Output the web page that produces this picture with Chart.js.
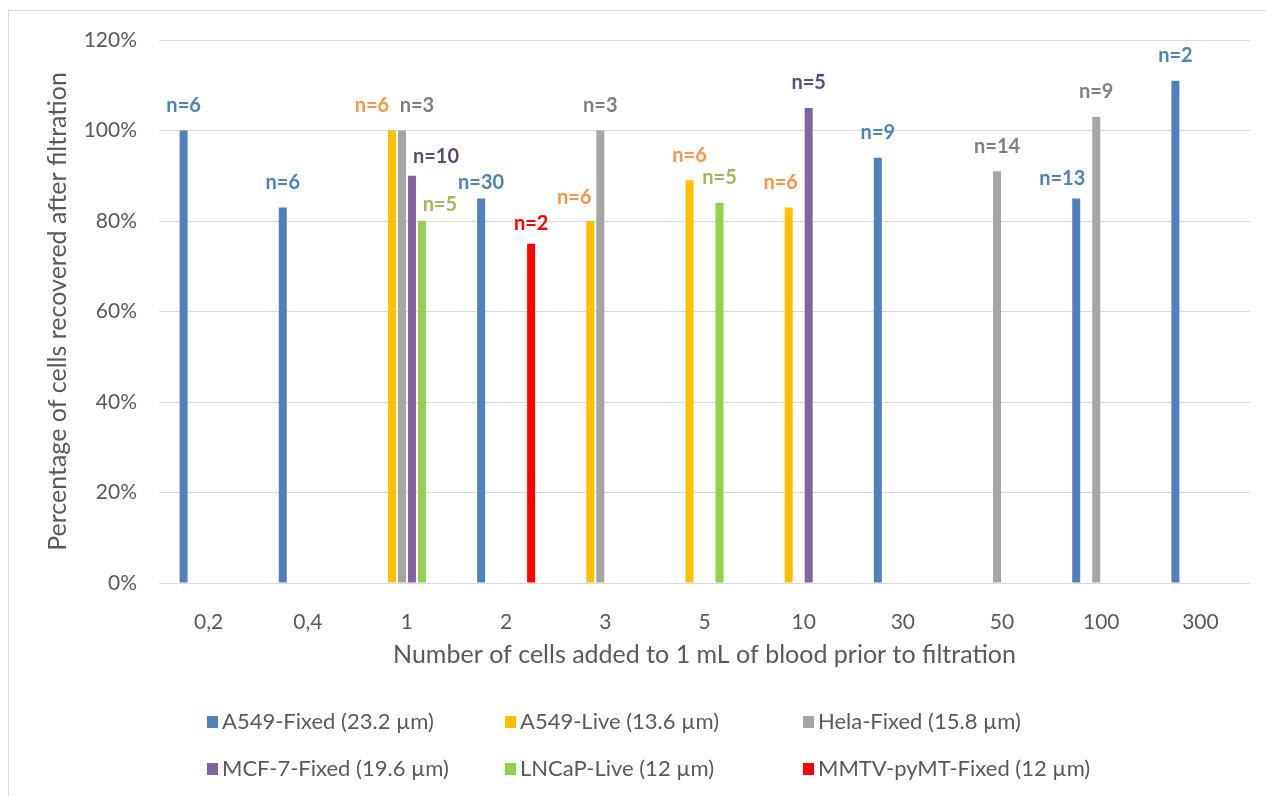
<!DOCTYPE html>
<html>
<head>
<meta charset="utf-8">
<script src="https://cdn.jsdelivr.net/npm/chart.js@4"></script>
<style>
  html, body { margin: 0; padding: 0; background: #fff; overflow: hidden; }
  #wrap { position: relative; width: 1266px; height: 796px; }
  #frame { position: absolute; left: 8px; top: 10px; width: 1300px; height: 900px;
           border-left: 1px solid #d9d9d9; border-top: 1px solid #d9d9d9; }
  canvas { position: absolute; left: 0; top: 0; }
</style>
</head>
<body>
<div id="wrap">
  <div id="frame"></div>
  <canvas id="myChart" width="1266" height="796"></canvas>
</div>
<script>
var categories = ['0,2', '0,4', '1', '2', '3', '5', '10', '30', '50', '100', '300'];

var a549Fixed  = [100, 83, null, 85, null, null, null, 94, null, 85, 111];
var a549FixedN = [6, 6, null, 30, null, null, null, 9, null, 13, 2];

var a549Live  = [null, null, 100, null, 80, 89, 83, null, null, null, null];
var a549LiveN = [null, null, 6, null, 6, 6, 6, null, null, null, null];

var helaFixed  = [null, null, 100, null, 100, null, null, null, 91, 103, null];
var helaFixedN = [null, null, 3, null, 3, null, null, null, 14, 9, null];

var mcf7Fixed  = [null, null, 90, null, null, null, 105, null, null, null, null];
var mcf7FixedN = [null, null, 10, null, null, null, 5, null, null, null, null];

var lncapLive  = [null, null, 80, null, null, 84, null, null, null, null, null];
var lncapLiveN = [null, null, 5, null, null, 5, null, null, null, null, null];

var mmtvFixed  = [null, null, null, 75, null, null, null, null, null, null, null];
var mmtvFixedN = [null, null, null, 2, null, null, null, null, null, null, null];

var seriesNames = ['A549-Fixed (23.2 µm)', 'A549-Live (13.6 µm)', 'Hela-Fixed (15.8 µm)',
	'MCF-7-Fixed (19.6 µm)', 'LNCaP-Live (12 µm)', 'MMTV-pyMT-Fixed (12 µm)'];

var barColors   = ['#4F81BD', '#FFC000', '#A5A5A5', '#8064A2', '#92D050', '#FF0000'];
var labelColors = ['#4F81BD', '#F79646', '#7F7F7F', '#5F497A', '#9BBB59', '#FF0000'];

var seriesValues = [a549Fixed, a549Live, helaFixed, mcf7Fixed, lncapLive, mmtvFixed];
var seriesN = [a549FixedN, a549LiveN, helaFixedN, mcf7FixedN, lncapLiveN, mmtvFixedN];

// labels that were dragged around in the original so they don't overlap: [dx, dy]
var labelShift = {
	'1:2': [-20, 0], '2:2': [15, 0], '3:2': [24, 6], '4:2': [18, 9],
	'1:4': [-16, 2], '1:6': [-8, 0], '0:3': [0, 9], '5:3': [0, 5], '0:9': [-14, 5]
};

var FONT = 'Lato, "Open Sans", sans-serif';
var TEXT = '#595959';

var datasets = [];
for (var i = 0; i < seriesValues.length; i++) {
	datasets.push({
		label: seriesNames[i],
		data: seriesValues[i],
		backgroundColor: barColors[i],
		borderWidth: 0,
		categoryPercentage: 0.605,
		barPercentage: 0.8
	});
}

var nLabels = {
	id: 'nLabels',
	afterDatasetsDraw: function(chart) {
		var ctx = chart.ctx;
		ctx.save();
		ctx.font = 'bold 20px ' + FONT;
		ctx.textAlign = 'center';
		ctx.textBaseline = 'middle';
		for (var d = 0; d < chart.data.datasets.length; d++) {
			var meta = chart.getDatasetMeta(d);
			ctx.fillStyle = labelColors[d];
			for (var k = 0; k < meta.data.length; k++) {
				var n = seriesN[d][k];
				if (n === null || seriesValues[d][k] === null) continue;
				var bar = meta.data[k];
				var s = labelShift[d + ':' + k] || [0, 0];
				ctx.fillText('n=' + n, bar.x + s[0], bar.y - 25 + s[1]);
			}
		}
		ctx.restore();
	}
};

var gridLegend = {
	id: 'gridLegend',
	afterDraw: function(chart) {
		var ctx = chart.ctx;
		var cols = [207, 505, 803];
		var rows = [722, 769];
		ctx.save();
		ctx.font = '22px ' + FONT;
		ctx.textBaseline = 'middle';
		ctx.textAlign = 'left';
		for (var i = 0; i < seriesNames.length; i++) {
			var x = cols[i % 3];
			var y = rows[Math.floor(i / 3)];
			ctx.fillStyle = barColors[i];
			ctx.fillRect(x, y - 6, 11, 12);
			ctx.fillStyle = TEXT;
			ctx.fillText(seriesNames[i], x + 15, y);
		}
		ctx.restore();
	}
};

var ctx = document.getElementById('myChart');
var myChart = new Chart(ctx, {
	type: 'bar',
	data: {
		labels: categories,
		datasets: datasets
	},
	options: {
		responsive: false,
		animation: false,
		layout: { padding: { left: 0, right: 16, top: 40, bottom: 126 } },
		plugins: {
			legend: { display: false },
			tooltip: { enabled: false }
		},
		scales: {
			x: {
				grid: { display: false },
				border: { display: false },
				ticks: { color: TEXT, font: { family: FONT, size: 21 }, padding: 19, maxRotation: 0 },
				title: {
					display: true,
					text: 'Number of cells added to 1 mL of blood prior to filtration',
					color: TEXT,
					font: { family: FONT, size: 25 },
					padding: { top: 0, bottom: 0 }
				},
				afterFit: function(scale) { scale.height = 87; }
			},
			y: {
				min: 0,
				max: 120,
				grid: { color: '#d9d9d9', lineWidth: 1, drawTicks: false },
				border: { display: false },
				ticks: {
					stepSize: 20,
					color: TEXT,
					font: { family: FONT, size: 21 },
					padding: 22,
					callback: function(v) { return v + '%'; }
				},
				title: {
					display: true,
					text: 'Percentage of cells recovered after filtration',
					color: TEXT,
					font: { family: FONT, size: 25 },
					padding: { top: 43, bottom: 0 }
				},
				afterFit: function(scale) { scale.width = 159; }
			}
		}
	},
	plugins: [nLabels, gridLegend]
});
</script>
</body>
</html>
